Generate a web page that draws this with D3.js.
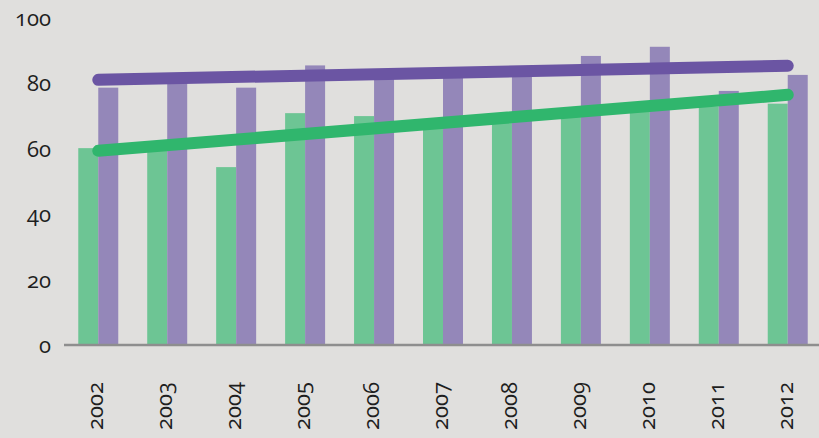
<!DOCTYPE html>
<html>
<head>
<meta charset="utf-8">
<script src="https://cdn.jsdelivr.net/npm/d3@7"></script>
<style>
  html, body { margin: 0; padding: 0; background: #e0dfdd; }
  svg { display: block; }
</style>
</head>
<body>
<svg id="chart" width="819" height="438"></svg>
<script>
const years = ["2002","2003","2004","2005","2006","2007","2008","2009","2010","2011","2012"];
const greenValues = [60.2, 60.0, 54.4, 70.9, 70.0, 66.5, 68.0, 70.0, 71.5, 73.0, 73.8];
const purpleValues = [78.7, 80.5, 78.7, 85.5, 82.5, 82.5, 83.0, 88.4, 91.2, 77.7, 82.6];
const greenTrend = [59.4, 76.5];   // trend line at first and last year
const purpleTrend = [81.1, 85.4];
const yTicks = [0, 20, 40, 60, 80, 100];

const svg = d3.select("#chart");
const W = 819, H = 438;
const labelStyle = "font-family:'Open Sans';font-size:22px;font-variant-numeric:oldstyle-nums";

const x = d3.scaleBand().domain(years).range([64, 822]).paddingInner(0.42).paddingOuter(0.207);
const xSub = d3.scaleBand().domain(["green","purple"]).range([0, x.bandwidth()]);
const y = d3.scaleLinear().domain([0, 100]).range([345, 18]);

// y labels
svg.append("g").selectAll("text").data(yTicks).join("text")
  .attr("x", 51).attr("y", d => y(d) + 8)
  .attr("text-anchor", "end")
  .attr("fill", "#1e1e1e")
  .attr("style", labelStyle)
  .text(d => d);

// bars
const groups = svg.append("g").selectAll("g").data(years).join("g")
  .attr("transform", d => `translate(${x(d)},0)`);
groups.append("rect")
  .attr("x", xSub("green")).attr("width", xSub.bandwidth())
  .attr("y", (d, i) => y(greenValues[i])).attr("height", (d, i) => y(0) - y(greenValues[i]))
  .attr("fill", "#6dc594");
groups.append("rect")
  .attr("x", xSub("purple")).attr("width", xSub.bandwidth())
  .attr("y", (d, i) => y(purpleValues[i])).attr("height", (d, i) => y(0) - y(purpleValues[i]))
  .attr("fill", "#9487b9");

// axis line
svg.append("line").attr("x1", 64).attr("x2", W).attr("y1", y(0)).attr("y2", y(0))
  .attr("stroke", "#8e8e8e").attr("stroke-width", 2.5);

// x labels
const cx = d => x(d) + x.bandwidth()/2;
svg.append("g").selectAll("text").data(years).join("text")
  .attr("transform", d => `translate(${cx(d) + 5},382) rotate(-90)`)
  .attr("text-anchor", "end")
  .attr("fill", "#1e1e1e")
  .attr("style", labelStyle)
  .text(d => d);

// trend lines
const line = d3.line().x(d => d[0]).y(d => d[1]);
const ends = [years[0], years[years.length-1]];
svg.append("path")
  .attr("d", line(ends.map((yr, i) => [cx(yr), y(purpleTrend[i])])))
  .attr("stroke", "#6b55a3").attr("stroke-width", 12).attr("stroke-linecap", "round").attr("fill", "none");
svg.append("path")
  .attr("d", line(ends.map((yr, i) => [cx(yr), y(greenTrend[i])])))
  .attr("stroke", "#30b66d").attr("stroke-width", 12).attr("stroke-linecap", "round").attr("fill", "none");
</script>
</body>
</html>
